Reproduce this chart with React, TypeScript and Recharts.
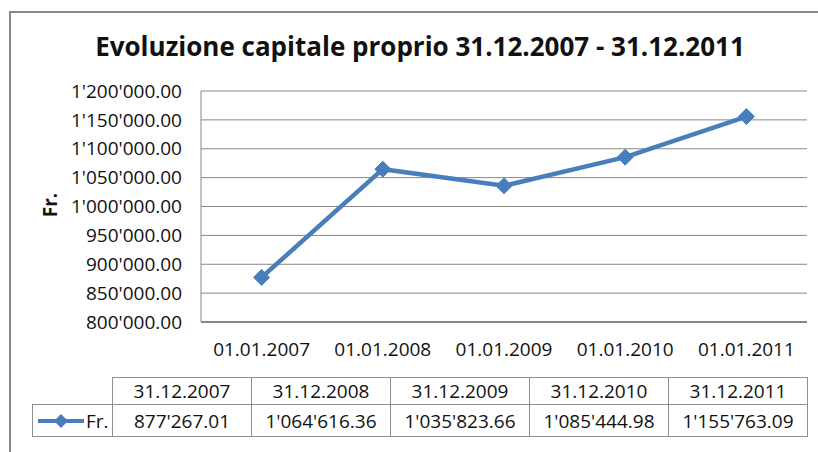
import { CartesianGrid, Line, LineChart, XAxis, YAxis } from "recharts";

const categories = ["01.01.2007", "01.01.2008", "01.01.2009", "01.01.2010", "01.01.2011"];
const periods = ["31.12.2007", "31.12.2008", "31.12.2009", "31.12.2010", "31.12.2011"];
const capitale = [877267.01, 1064616.36, 1035823.66, 1085444.98, 1155763.09];
const yTicks = [800000, 850000, 900000, 950000, 1000000, 1050000, 1100000, 1150000, 1200000];
const seriesName = "Fr.";
const title = "Evoluzione capitale proprio 31.12.2007 - 31.12.2011";

const BLUE = "#4a7ebb";
const GRID = "#878787";
const FONT = "'Open Sans', 'Liberation Sans', sans-serif";

function fmtChf(v: number) {
  const [i, d] = v.toFixed(2).split(".");
  return i.replace(/\B(?=(\d{3})+(?!\d))/g, "'") + "." + d;
}

const data = categories.map((c, i) => ({ label: c, value: capitale[i] }));

function Diamond(props: any) {
  const { cx, cy, index } = props;
  if (cx == null || cy == null) return <g key={index} />;
  const r = 8;
  return (
    <path
      key={index}
      d={`M${cx},${cy - r}L${cx + r},${cy}L${cx},${cy + r}L${cx - r},${cy}Z`}
      fill={BLUE}
      stroke={BLUE}
      strokeWidth={1}
    />
  );
}

const cellBorder = "1px solid #8f8f8f";

function DataTable() {
  const left = 32;
  const legendW = 80;
  const colW = 139;
  const headTop = 377;
  const headH = 27;
  const rowH = 32;
  const cell = { position: "absolute" as const, boxSizing: "border-box" as const, display: "flex", alignItems: "center", justifyContent: "center", fontFamily: FONT, fontSize: 19, color: "#111" };

  return (
    <>
      {periods.map((p, i) => (
        <div
          key={"h" + p}
          style={{ ...cell, left: left + legendW + i * colW, top: headTop, width: colW + 1, height: headH + 1, border: cellBorder }}
        >
          {p}
        </div>
      ))}
      <div style={{ ...cell, left, top: headTop + headH, width: legendW + 1, height: rowH + 1, border: cellBorder, justifyContent: "flex-start" }}>
        <svg width={48} height={20} style={{ marginLeft: 4 }}>
          <line x1={1} y1={10} x2={47} y2={10} stroke={BLUE} strokeWidth={4} />
          <path d="M24,3L31,10L24,17L17,10Z" fill={BLUE} />
        </svg>
        <span style={{ marginLeft: 1 }}>{seriesName}</span>
      </div>
      {capitale.map((v, i) => (
        <div
          key={"v" + i}
          style={{ ...cell, left: left + legendW + i * colW, top: headTop + headH, width: colW + 1, height: rowH + 1, border: cellBorder }}
        >
          {fmtChf(v)}
        </div>
      ))}
    </>
  );
}

export default function App() {
  return (
    <div style={{ position: "absolute", left: 0, top: 0, width: 818, height: 452, background: "#fff", overflow: "hidden" }}>
      <div style={{ position: "absolute", left: 9, top: 11, width: 1000, height: 1000, border: "2px solid #888" }} />
      <div
        style={{ position: "absolute", left: 0, top: 29, width: 840, textAlign: "center", fontFamily: FONT, fontWeight: 700, fontSize: 26, lineHeight: "34px", color: "#111" }}
      >
        {title}
      </div>
      <div
        style={{ position: "absolute", left: 50, top: 205, width: 0, height: 0 }}
      >
        <div style={{ position: "absolute", left: -30, top: -13, width: 60, textAlign: "center", transform: "rotate(-90deg)", fontFamily: FONT, fontWeight: 700, fontSize: 19, lineHeight: "26px", color: "#111" }}>
          {seriesName}
        </div>
      </div>
      <div style={{ position: "absolute", left: 0, top: 0 }}>
        <LineChart width={818} height={452} data={data} margin={{ top: 91, right: 11, bottom: 100, left: 0 }}>
          <CartesianGrid vertical={false} stroke={GRID} strokeWidth={1} />
          <XAxis
            dataKey="label"
            height={30}
            padding={{ left: 60.6, right: 60.6 }}
            tickLine={false}
            tickSize={0}
            tickMargin={21}
            axisLine={{ stroke: GRID, strokeWidth: 2 }}
            tick={{ fill: "#111", fontSize: 19, fontFamily: FONT }}
            interval={0}
          />
          <YAxis
            width={201}
            domain={[800000, 1200000]}
            ticks={yTicks}
            tickFormatter={fmtChf}
            tickLine={false}
            tickSize={0}
            tickMargin={19}
            axisLine={{ stroke: GRID, strokeWidth: 1 }}
            tick={{ fill: "#111", fontSize: 19, fontFamily: FONT }}
            interval={0}
          />
          <Line
            dataKey="value"
            name={seriesName}
            stroke={BLUE}
            strokeWidth={4.5}
            dot={Diamond}
            activeDot={false}
            isAnimationActive={false}
            type="linear"
          />
        </LineChart>
      </div>
      <DataTable />
    </div>
  );
}
